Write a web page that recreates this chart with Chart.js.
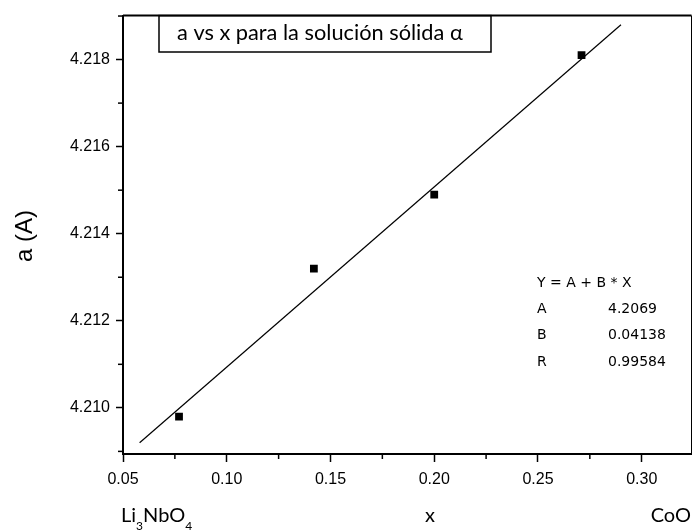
<!DOCTYPE html>
<html><head><meta charset="utf-8">
<script src="https://cdn.jsdelivr.net/npm/chart.js@4.4.0/dist/chart.umd.min.js"></script>
<style>html,body{margin:0;padding:0;background:#fff;}canvas{display:block;}</style>
</head><body>
<canvas id="c" width="697" height="531"></canvas>
<script>
// ---- data ----
const xValues = [0.077, 0.142, 0.200, 0.271];
const aValues = [4.2098, 4.2132, 4.2149, 4.2181];
const fitX = [0.058, 0.290];
const fitY = [4.2092, 4.2188];
const xTicks = [0.05, 0.10, 0.15, 0.20, 0.25, 0.30];
const xMinor = [0.075, 0.125, 0.175, 0.225, 0.275];
const yTicks = [4.210, 4.212, 4.214, 4.216, 4.218];
const yMinor = [4.209, 4.211, 4.213, 4.215, 4.217, 4.219];
const titleText = 'a vs x para la solución sólida α';
const eqRows = [['Y = A + B * X', ''], ['A', '4.2069'], ['B', '0.04138'], ['R', '0.99584']];

const deco = {
  id: 'deco',
  afterDraw(chart) {
    const ctx = chart.ctx, xs = chart.scales.x, ys = chart.scales.y, ca = chart.chartArea;
    ctx.save();
    ctx.strokeStyle = '#000';
    // top & right frame
    ctx.lineWidth = 2;
    ctx.beginPath(); ctx.moveTo(ca.left, ca.top); ctx.lineTo(ca.right, ca.top); ctx.stroke();
    ctx.lineWidth = 1;
    ctx.beginPath(); ctx.moveTo(ca.right, ca.top); ctx.lineTo(ca.right, ca.bottom); ctx.stroke();
    // minor ticks
    ctx.lineWidth = 1.5;
    xMinor.forEach(v => { const p = xs.getPixelForValue(v); ctx.beginPath(); ctx.moveTo(p, ca.bottom); ctx.lineTo(p, ca.bottom + 5); ctx.stroke(); });
    yMinor.forEach(v => { const p = ys.getPixelForValue(v); ctx.beginPath(); ctx.moveTo(ca.left - 5, p); ctx.lineTo(ca.left, p); ctx.stroke(); });
    // title box
    ctx.lineWidth = 1.5;
    ctx.strokeRect(159, ca.top, 332, 52 - ca.top);
    ctx.fillStyle = '#000';
    ctx.font = '20px Lato';
    const w = ctx.measureText(titleText).width;
    const fs = 20 * 286 / w;
    ctx.font = fs.toFixed(2) + 'px Lato';
    ctx.textBaseline = 'middle'; ctx.textAlign = 'left';
    ctx.fillText(titleText, 177, 33);
    // equation block
    ctx.font = '14px "DejaVu Sans"';
    eqRows.forEach((r, i) => {
      const y = 283 + i * 26.3;
      ctx.fillText(r[0], 537, y);
      if (r[1]) ctx.fillText(r[1], 608, y);
    });
    // y title
    ctx.save();
    ctx.translate(25, 236); ctx.rotate(-Math.PI / 2);
    ctx.textAlign = 'center';
    ctx.font = '24px "Liberation Sans"';
    ctx.fillText('a (A)', 0, 0);
    ctx.restore();
    // bottom labels
    ctx.textBaseline = 'alphabetic';
    ctx.font = '20px Lato';
    let x = 121;
    const parts = [['Li', 0], ['3', 1], ['NbO', 0], ['4', 1]];
    parts.forEach(p => {
      if (p[1]) { ctx.font = '12px Lato'; ctx.fillText(p[0], x, 530); x += ctx.measureText(p[0]).width; ctx.font = '20px Lato'; }
      else { ctx.fillText(p[0], x, 522); x += ctx.measureText(p[0]).width; }
    });
    ctx.textAlign = 'center';
    ctx.fillText('x', 430, 522);
    ctx.textAlign = 'right';
    ctx.fillText('CoO', 691, 522);
    ctx.restore();
  }
};

new Chart(document.getElementById('c'), {
  data: {
    datasets: [
      { type: 'line', data: fitX.map((v, i) => ({ x: v, y: fitY[i] })), borderColor: '#000', borderWidth: 1.2, pointRadius: 0, fill: false },
      { type: 'scatter', data: xValues.map((v, i) => ({ x: v, y: aValues[i] })), pointStyle: 'rect', pointRadius: 5.5, backgroundColor: '#000', borderColor: '#000', borderWidth: 0 }
    ]
  },
  options: {
    responsive: false, devicePixelRatio: 1, animation: false,
    layout: { padding: { top: 14, right: 5, left: 0, bottom: 0 } },
    plugins: { legend: { display: false }, tooltip: { enabled: false } },
    scales: {
      x: {
        type: 'linear', min: 0.05, max: 0.324,
        afterFit: s => { s.height = 77; },
        afterBuildTicks: s => { s.ticks = xTicks.map(v => ({ value: v })); },
        border: { display: true, color: '#000', width: 2 },
        grid: { drawOnChartArea: false, drawTicks: true, tickLength: 8, tickColor: '#000', tickWidth: 1.5 },
        ticks: { color: '#000', font: { family: '"Liberation Sans"', size: 16 }, padding: 8, maxRotation: 0, callback: v => v.toFixed(2) }
      },
      y: {
        type: 'linear', min: 4.20894, max: 4.21901,
        afterFit: s => { s.width = 123; },
        afterBuildTicks: s => { s.ticks = yTicks.map(v => ({ value: v })); },
        border: { display: true, color: '#000', width: 2 },
        grid: { drawOnChartArea: false, drawTicks: true, tickLength: 7, tickColor: '#000', tickWidth: 1.5 },
        ticks: { color: '#000', font: { family: '"Liberation Sans"', size: 16 }, padding: 6, callback: v => v.toFixed(3) }
      }
    }
  },
  plugins: [deco]
});
</script>
</body></html>
